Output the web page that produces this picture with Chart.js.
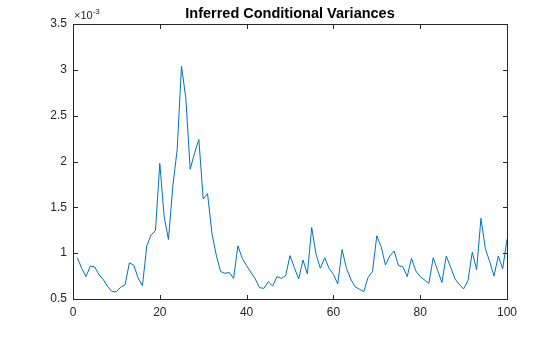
<!DOCTYPE html>
<html>
<head>
<meta charset="utf-8">
<script src="https://cdn.jsdelivr.net/npm/chart.js@4"></script>
<style>
  html, body { margin: 0; padding: 0; background: #fff; }
  #wrap { width: 560px; height: 337px; position: relative; }
</style>
</head>
<body>
<div id="wrap"><canvas id="varchart"></canvas></div>
<script>
// conditional variance per period, in units of 1e-3
const variance = [
  0.95, 0.835, 0.745, 0.86, 0.85, 0.765, 0.71, 0.635, 0.58, 0.58,
  0.63, 0.655, 0.895, 0.87, 0.73, 0.645, 1.08, 1.20, 1.245, 1.98,
  1.40, 1.15, 1.73, 2.13, 3.04, 2.69, 1.915, 2.09, 2.24, 1.59,
  1.65, 1.22, 0.98, 0.80, 0.78, 0.79, 0.725, 1.08, 0.944, 0.864,
  0.79, 0.718, 0.624, 0.616, 0.689, 0.642, 0.744, 0.725, 0.754, 0.973,
  0.842, 0.718, 0.925, 0.773, 1.28, 0.987, 0.835, 0.95, 0.835, 0.769,
  0.665, 1.04, 0.835, 0.718, 0.634, 0.606, 0.58, 0.737, 0.798, 1.19,
  1.07, 0.871, 0.969, 1.024, 0.864, 0.853, 0.744, 0.944, 0.805, 0.744,
  0.707, 0.671, 0.95, 0.815, 0.68, 0.967, 0.85, 0.72, 0.66, 0.61,
  0.70, 1.01, 0.82, 1.38, 1.05, 0.91, 0.75, 0.97, 0.83, 1.15
];
const xTicks = [0, 20, 40, 60, 80, 100];
const xTickLabels = ["0", "20", "40", "60", "80", "100"];
const yTicks = [0.5, 1, 1.5, 2, 2.5, 3, 3.5];
const yTickLabels = ["0.5", "1", "1.5", "2", "2.5", "3", "3.5"];

const axisColor = "#262626";
const fontFamily = "'Liberation Sans', Arial, sans-serif";

// MATLAB-style box with inward ticks, title and exponent marker
const boxAxes = {
  id: "boxAxes",
  afterDraw(chart) {
    const { ctx, chartArea: a, scales } = chart;
    const L = Math.round(a.left) + 0.5, R = Math.round(a.right) + 0.5;
    const T = Math.round(a.top) + 0.5, B = Math.round(a.bottom) + 0.5;
    ctx.save();
    ctx.strokeStyle = axisColor;
    ctx.lineWidth = 1;
    ctx.strokeRect(L, T, R - L, B - T);
    const tl = 4.5;
    ctx.beginPath();
    xTicks.forEach(v => {
      const px = Math.round(scales.x.getPixelForValue(v)) + 0.5;
      ctx.moveTo(px, B); ctx.lineTo(px, B - tl);
      ctx.moveTo(px, T); ctx.lineTo(px, T + tl);
    });
    yTicks.forEach(v => {
      const py = Math.round(scales.y.getPixelForValue(v)) + 0.5;
      ctx.moveTo(L, py); ctx.lineTo(L + tl, py);
      ctx.moveTo(R, py); ctx.lineTo(R - tl, py);
    });
    ctx.stroke();

    ctx.fillStyle = "#000";
    ctx.font = "bold 14.5px " + fontFamily;
    ctx.textAlign = "center";
    ctx.textBaseline = "middle";
    ctx.fillText("Inferred Conditional Variances", (a.left + a.right) / 2, 14);

    ctx.fillStyle = axisColor;
    ctx.textAlign = "left";
    ctx.textBaseline = "alphabetic";
    ctx.font = "11px " + fontFamily;
    ctx.fillText("\u00d710", a.left + 1, 19);
    const w = ctx.measureText("\u00d710").width;
    ctx.font = "8px " + fontFamily;
    ctx.fillText("-3", a.left + 1 + w, 14);
    ctx.restore();
  }
};

const ctx = document.getElementById("varchart").getContext("2d");
const varchart = new Chart(ctx, {
  type: "line",
  data: {
    datasets: [{
      data: variance.map((v, i) => ({ x: i + 1, y: v })),
      borderColor: "#0072BD",
      borderWidth: 1,
      pointRadius: 0,
      tension: 0,
      fill: false,
    }],
  },
  options: {
    responsive: true,
    maintainAspectRatio: false,
    animation: false,
    layout: { padding: { left: 0, top: 24, right: 53, bottom: 0 } },
    plugins: { legend: { display: false }, tooltip: { enabled: false } },
    scales: {
      x: {
        type: "linear",
        min: 0,
        max: 100,
        afterFit(scale) { scale.height = 38; },
        afterBuildTicks(scale) { scale.ticks = xTicks.map(v => ({ value: v })); },
        grid: { display: false, drawTicks: false },
        border: { display: false },
        ticks: {
          padding: 6,
          color: axisColor,
          font: { family: fontFamily, size: 12 },
          maxRotation: 0,
          callback: (v) => xTickLabels[xTicks.indexOf(v)],
        },
      },
      y: {
        type: "linear",
        min: 0.5,
        max: 3.5,
        afterFit(scale) { scale.width = 73; },
        afterBuildTicks(scale) { scale.ticks = yTicks.map(v => ({ value: v })); },
        grid: { display: false, drawTicks: false },
        border: { display: false },
        ticks: {
          padding: 6,
          color: axisColor,
          font: { family: fontFamily, size: 12 },
          callback: (v) => yTickLabels[yTicks.indexOf(v)],
        },
      },
    },
  },
  plugins: [boxAxes],
});
</script>
</body>
</html>
